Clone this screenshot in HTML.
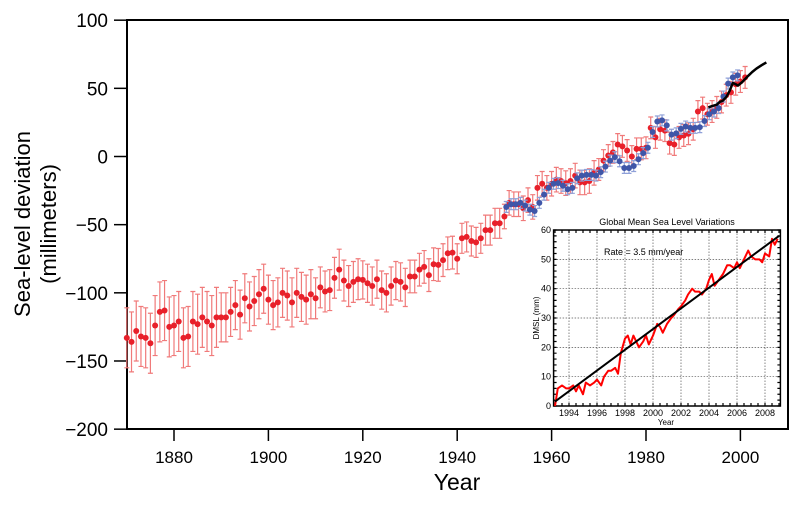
<!DOCTYPE html>
<html><head><meta charset="utf-8"><style>
html,body{margin:0;padding:0;background:#fff;}
svg{display:block;font-family:"Liberation Sans",Arial,sans-serif;}
</style></head><body>
<svg id="chart" width="800" height="506" viewBox="0 0 800 506" xmlns="http://www.w3.org/2000/svg">
<rect x="0" y="0" width="800" height="506" fill="#fff"/>
<g id="main"></g>
<text transform="translate(30,224) rotate(-90)" text-anchor="middle" font-size="22">Sea-level deviation</text>
<text transform="translate(56,224) rotate(-90)" text-anchor="middle" font-size="22">(millimeters)</text>
<text x="457" y="490" text-anchor="middle" font-size="23">Year</text>
<g id="inset"></g>
</svg>
<script>
// ---- main chart data ----
const redStartYear = 1870;
const redValues = [-133,-136,-128,-132,-133,-137,-124,-114,-113,-125,
-124,-121,-133,-132,-121,-123,-118,-121,-124,-118,
-118,-118,-114,-109,-116,-104,-110,-106,-101,-97,
-105,-109,-107,-100,-102,-107,-100,-103,-105,-101,
-104,-96,-99,-98,-89,-83,-91,-95,-92,-90,
-90.5,-93,-95,-90,-98,-100,-95,-91,-92,-96,
-88,-88,-83,-81,-87,-79,-79.5,-76,-71,-70.5,
-75,-60,-59,-62,-63,-60,-54,-54,-49,-49,
-44,-34,-35,-35,-38,-32,-37,-23,-20,-23,
-20,-17,-18,-19.5,-18,-14,-19,-19,-18,-12,
-9.5,-3,0.7,3,8.8,7.4,4.4,0,5.6,5.6,
6.4,21,14,20,19,9.8,8.8,14,15.4,16.7,
20,33,35.5,31,33,36,40,45,47,53,55,58];
const redErrors = [22,22,22,22,22,22,22,22,22,22,
22,22,22,22,22,22,22,22,22,22,
18,18,18,18,18,18,18,18,18,18,
18,18,18,18,18,18,18,18,18,18,
15,15,15,15,15,15,15,15,15,15,
14,14,14,14,14,14,14,14,14,14,
12,12,12,12,12,12,12,12,12,12,
11,11,11,11,11,11,11,11,11,11,
9,9,9,9,9,9,9,9,9,9,
9,9,9,9,9,9,9,9,9,9,
8,8,8,8,8,8,8,8,8,8,
8,8,8,8,8,8,8,8,8,8,
8,8,8,8,8,8,8,8,8,8,8,8];
const blueStartYear = 1950;
const blueValues = [-37,-35,-35,-34,-36,-39,-40,-34,-28,-23,
-20,-19.5,-21.5,-24,-23,-16,-14,-13.5,-13.5,-14,
-11.5,-7.4,-3,-0.5,-3.5,-8.4,-8.4,-7,-2,2.5,
6.4,18,25.7,26.5,22.8,16,17,20.3,22,21,
21,21.5,26,31,33,35.5,44,53.5,58,59.5];
const blueError = 4;
const blackYears = [1993.2,1994,1995,1995.6,1996.3,1997,1997.7,1998.4,1999,1999.5,2000.5,2001.6,2002.5,2003.4,2004.5,2005.5];
const blackValues = [36,37,38,40,41,43.6,48,54,53,52,55,59,62,64.5,67,69];
const yTicks = [100,50,0,-50,-100,-150,-200];
const xTicks = [1880,1900,1920,1940,1960,1980,2000];

// ---- inset data ----
const insetYears = [1993.0,1993.2,1993.5,1993.8,1994,1994.3,1994.5,1994.7,1995,1995.2,1995.5,1995.8,1996,1996.3,1996.5,1996.8,1997,1997.3,1997.5,1997.7,1998,1998.2,1998.4,1998.6,1998.8,1999,1999.3,1999.5,1999.7,2000,2000.3,2000.5,2000.7,2001,2001.3,2001.5,2001.8,2002,2002.3,2002.5,2002.8,2003,2003.3,2003.5,2003.8,2004,2004.2,2004.4,2004.7,2005,2005.3,2005.5,2005.8,2006,2006.2,2006.5,2006.8,2007,2007.3,2007.6,2007.8,2008,2008.3,2008.5,2008.7,2008.9];
const insetValues = [0,6,7,6,6,7,5,7,4,8,7,8,9,7,10,12,12,13,11,18,23,24,21,24,22,20,22,24,21,24,28,27,25,28,30,31,33,34,36,38,40,39,39,38,40,43,45,41,43,45,48,48,47,49,47,50,53,51,50,50,49,52,51,57,55,57];
const trendYears = [1993.0,2009.0];
const trendValues = [1.5,58];
const insetYTicks = [0,10,20,30,40,50,60];
const insetXTicks = [1994,1996,1998,2000,2002,2004,2006,2008];

const NS = "http://www.w3.org/2000/svg";
function mk(parent, tag, attrs){const e=document.createElementNS(NS,tag);for(const k in attrs)e.setAttribute(k,attrs[k]);parent.appendChild(e);return e;}

// main axes
const X = y => 174 + (y-1880)*4.72;
const Y = v => 156.5 - v*1.3633;
const main = document.getElementById('main');

const frame = mk(main,'rect',{x:127,y:20,width:661,height:409,fill:'none',stroke:'#000','stroke-width':2});



yTicks.forEach(t=>{
  const l=mk(main,'line',{x1:114,x2:127,y1:Y(t),y2:Y(t),stroke:'#000','stroke-width':1.5});
  
  
  const tx=mk(main,'text',{x:108,y:Y(t)+7,'text-anchor':'end','font-size':19});
  tx.textContent = (t<0?'\u2212'+(-t):String(t));
  
  
});
xTicks.forEach(t=>{
  const l=mk(main,'line',{x1:X(t),x2:X(t),y1:429,y2:441,stroke:'#000','stroke-width':1.5});
  
  
  const tx=mk(main,'text',{x:X(t),y:463,'text-anchor':'middle','font-size':17});
  tx.textContent=String(t);
  
  
});

function errBar(g,x,v,e,col,name){
  const y1=Y(v+e), y2=Y(v-e);
  const p=mk(g,'path',{d:`M${x},${y1}V${y2}M${x-2.5},${y1}H${x+2.5}M${x-2.5},${y2}H${x+2.5}`,stroke:col,'stroke-width':1.2,fill:'none'});
  
  
}
const gRed = mk(main,'g',{});


redValues.forEach((v,i)=>errBar(gRed,X(redStartYear+i),v,redErrors[i],'#f07a7a','red-error-bar'));
const gBlue = mk(main,'g',{});


blueValues.forEach((v,i)=>errBar(gBlue,X(blueStartYear+i+0.4),v,blueError,'#8fa0d8','blue-error-bar'));
redValues.forEach((v,i)=>{
  const c=mk(gRed,'circle',{cx:X(redStartYear+i),cy:Y(v),r:3,fill:'#e8202a'});
  
  
});
blueValues.forEach((v,i)=>{
  const c=mk(gBlue,'circle',{cx:X(blueStartYear+i+0.4),cy:Y(v),r:3,fill:'#3f56a8'});
  
  
});
const bl = mk(main,'polyline',{points:blackYears.map((y,i)=>X(y)+','+Y(blackValues[i])).join(' '),fill:'none',stroke:'#000','stroke-width':2.5,'stroke-linejoin':'round'});



// inset
const inset=document.getElementById('inset');
const IX = y => 555 + (y-1993)*14;
const IY = v => 406 - v*2.933;
const bg=mk(inset,'rect',{x:543,y:212,width:244,height:216,fill:'#fff'});


const title=mk(inset,'text',{x:667,y:225,'text-anchor':'middle','font-size':9});
title.textContent='Global Mean Sea Level Variations';


insetYTicks.forEach(t=>{
  if(t>0&&t<60){const g=mk(inset,'line',{x1:IX(1992.9),x2:IX(2009.1),y1:IY(t),y2:IY(t),stroke:'#555','stroke-width':0.7,'stroke-dasharray':'1.5,1.5'});
  
  }
  const tx=mk(inset,'text',{x:551,y:IY(t)+3,'text-anchor':'end','font-size':9});
  tx.textContent=String(t);
  
  
});
insetXTicks.forEach(t=>{
  const g=mk(inset,'line',{x1:IX(t),x2:IX(t),y1:IY(0),y2:IY(60),stroke:'#555','stroke-width':0.7,'stroke-dasharray':'1.5,1.5'});
  
  
  const tx=mk(inset,'text',{x:IX(t),y:416,'text-anchor':'middle','font-size':9});
  tx.textContent=String(t);
  
  
});
// minor ticks
let tk='';
for(let v=0;v<=60;v+=2){tk+=`M${IX(1992.9)},${IY(v)}h3M${IX(2009.1)},${IY(v)}h-3`;}
for(let y=1993;y<=2009;y+=0.5){tk+=`M${IX(y)},${IY(0)}v-3M${IX(y)},${IY(60)}v3`;}
const tkp=mk(inset,'path',{d:tk,stroke:'#000','stroke-width':1.2,fill:'none'});


const ifr=mk(inset,'rect',{x:IX(1992.9),y:IY(60),width:IX(2009.1)-IX(1992.9),height:IY(0)-IY(60),fill:'none',stroke:'#000','stroke-width':1.5});


const rate=mk(inset,'text',{x:604,y:255,'font-size':9});
rate.textContent='Rate = 3.5 mm/year';


const yl=mk(inset,'text',{transform:'translate(539,318) rotate(-90)','text-anchor':'middle','font-size':8});
yl.textContent='DMSL (mm)';


const xl=mk(inset,'text',{x:666,y:425,'text-anchor':'middle','font-size':8});
xl.textContent='Year';


const il=mk(inset,'polyline',{points:insetYears.map((y,i)=>IX(y)+','+IY(insetValues[i])).join(' '),fill:'none',stroke:'#f00','stroke-width':2,'stroke-linejoin':'round'});


const tl=mk(inset,'polyline',{points:trendYears.map((y,i)=>IX(y)+','+IY(trendValues[i])).join(' '),fill:'none',stroke:'#000','stroke-width':2});


</script>
</body></html>
